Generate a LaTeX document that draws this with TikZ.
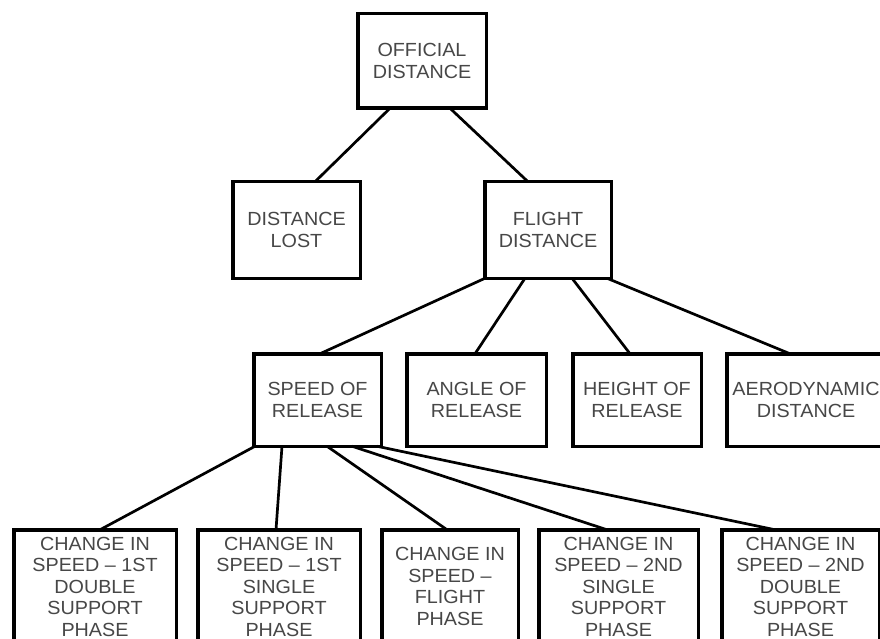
\documentclass[tikz,border=0pt]{standalone}
\usepackage{fontspec}
\setmainfont{Liberation Sans}[FakeStretch=1.04]
\begin{document}
\begin{tikzpicture}[x=1pt,y=-1pt,
  box/.style={draw=black, line width=3.5pt, outer sep=0pt, inner sep=0pt, align=center,
    text=black!72, font=\fontsize{19}{21.5}\selectfont},
  link/.style={draw=black, line width=2.7pt},
  lv1/.style={minimum height=94.5pt},
  lv2/.style={minimum height=96.5pt},
  lv3/.style={minimum height=92.5pt},
  lv4/.style={minimum height=113.5pt}]
\fill[white] (0,0) rectangle (880,639);
\useasboundingbox (0,0) rectangle (880,639);

\node[box,lv1,minimum width=128.5pt] (off) at (422,61) {OFFICIAL\\DISTANCE};

\node[box,lv2,minimum width=127.5pt] (lost) at (296.5,230) {DISTANCE\\LOST};
\node[box,lv2,minimum width=126.5pt] (flight) at (548,230) {FLIGHT\\DISTANCE};

\node[box,lv3,minimum width=127.5pt] (speed) at (317.5,400) {SPEED OF\\RELEASE};
\node[box,lv3,minimum width=139.5pt] (angle) at (476.5,400) {ANGLE OF\\RELEASE};
\node[box,lv3,minimum width=128.5pt] (height) at (637,400) {HEIGHT OF\\RELEASE};
\node[box,lv3,minimum width=158.5pt] (aero) at (806,400) {AERODYNAMIC\\DISTANCE};

\node[box,lv4,minimum width=162.5pt] (b1) at (95,586.5) {CHANGE IN\\SPEED -- 1ST\\DOUBLE\\SUPPORT\\PHASE};
\node[box,lv4,minimum width=162.5pt] (b2) at (279,586.5) {CHANGE IN\\SPEED -- 1ST\\SINGLE\\SUPPORT\\PHASE};
\node[box,lv4,minimum width=136.5pt] (b3) at (450,586.5) {CHANGE IN\\SPEED --\\FLIGHT\\PHASE};
\node[box,lv4,minimum width=159.5pt] (b4) at (618.5,586.5) {CHANGE IN\\SPEED -- 2ND\\SINGLE\\SUPPORT\\PHASE};
\node[box,lv4,minimum width=157.5pt] (b5) at (800.5,586.5) {CHANGE IN\\SPEED -- 2ND\\DOUBLE\\SUPPORT\\PHASE};

\draw[link] ([xshift=-32pt]off.south) -- ([xshift=18.5pt]lost.north);
\draw[link] ([xshift=28pt]off.south) -- ([xshift=-20pt]flight.north);

\draw[link] ([xshift=-63pt]flight.south) -- ([xshift=2.5pt]speed.north);
\draw[link] ([xshift=-23pt]flight.south) -- ([xshift=-1.5pt]angle.north);
\draw[link] ([xshift=24pt]flight.south) -- ([xshift=-7pt]height.north);
\draw[link] ([xshift=59pt]flight.south) -- ([xshift=-16pt]aero.north);

\draw[link] ([xshift=-62.5pt]speed.south) -- ([xshift=5pt]b1.north);
\draw[link] ([xshift=-35.5pt]speed.south) -- ([xshift=-3pt]b2.north);
\draw[link] ([xshift=9.5pt]speed.south) -- ([xshift=-3pt]b3.north);
\draw[link] ([xshift=34.5pt]speed.south) -- ([xshift=-11.5pt]b4.north);
\draw[link] ([xshift=59.5pt]speed.south) -- ([xshift=-25.5pt]b5.north);
\end{tikzpicture}
\end{document}
